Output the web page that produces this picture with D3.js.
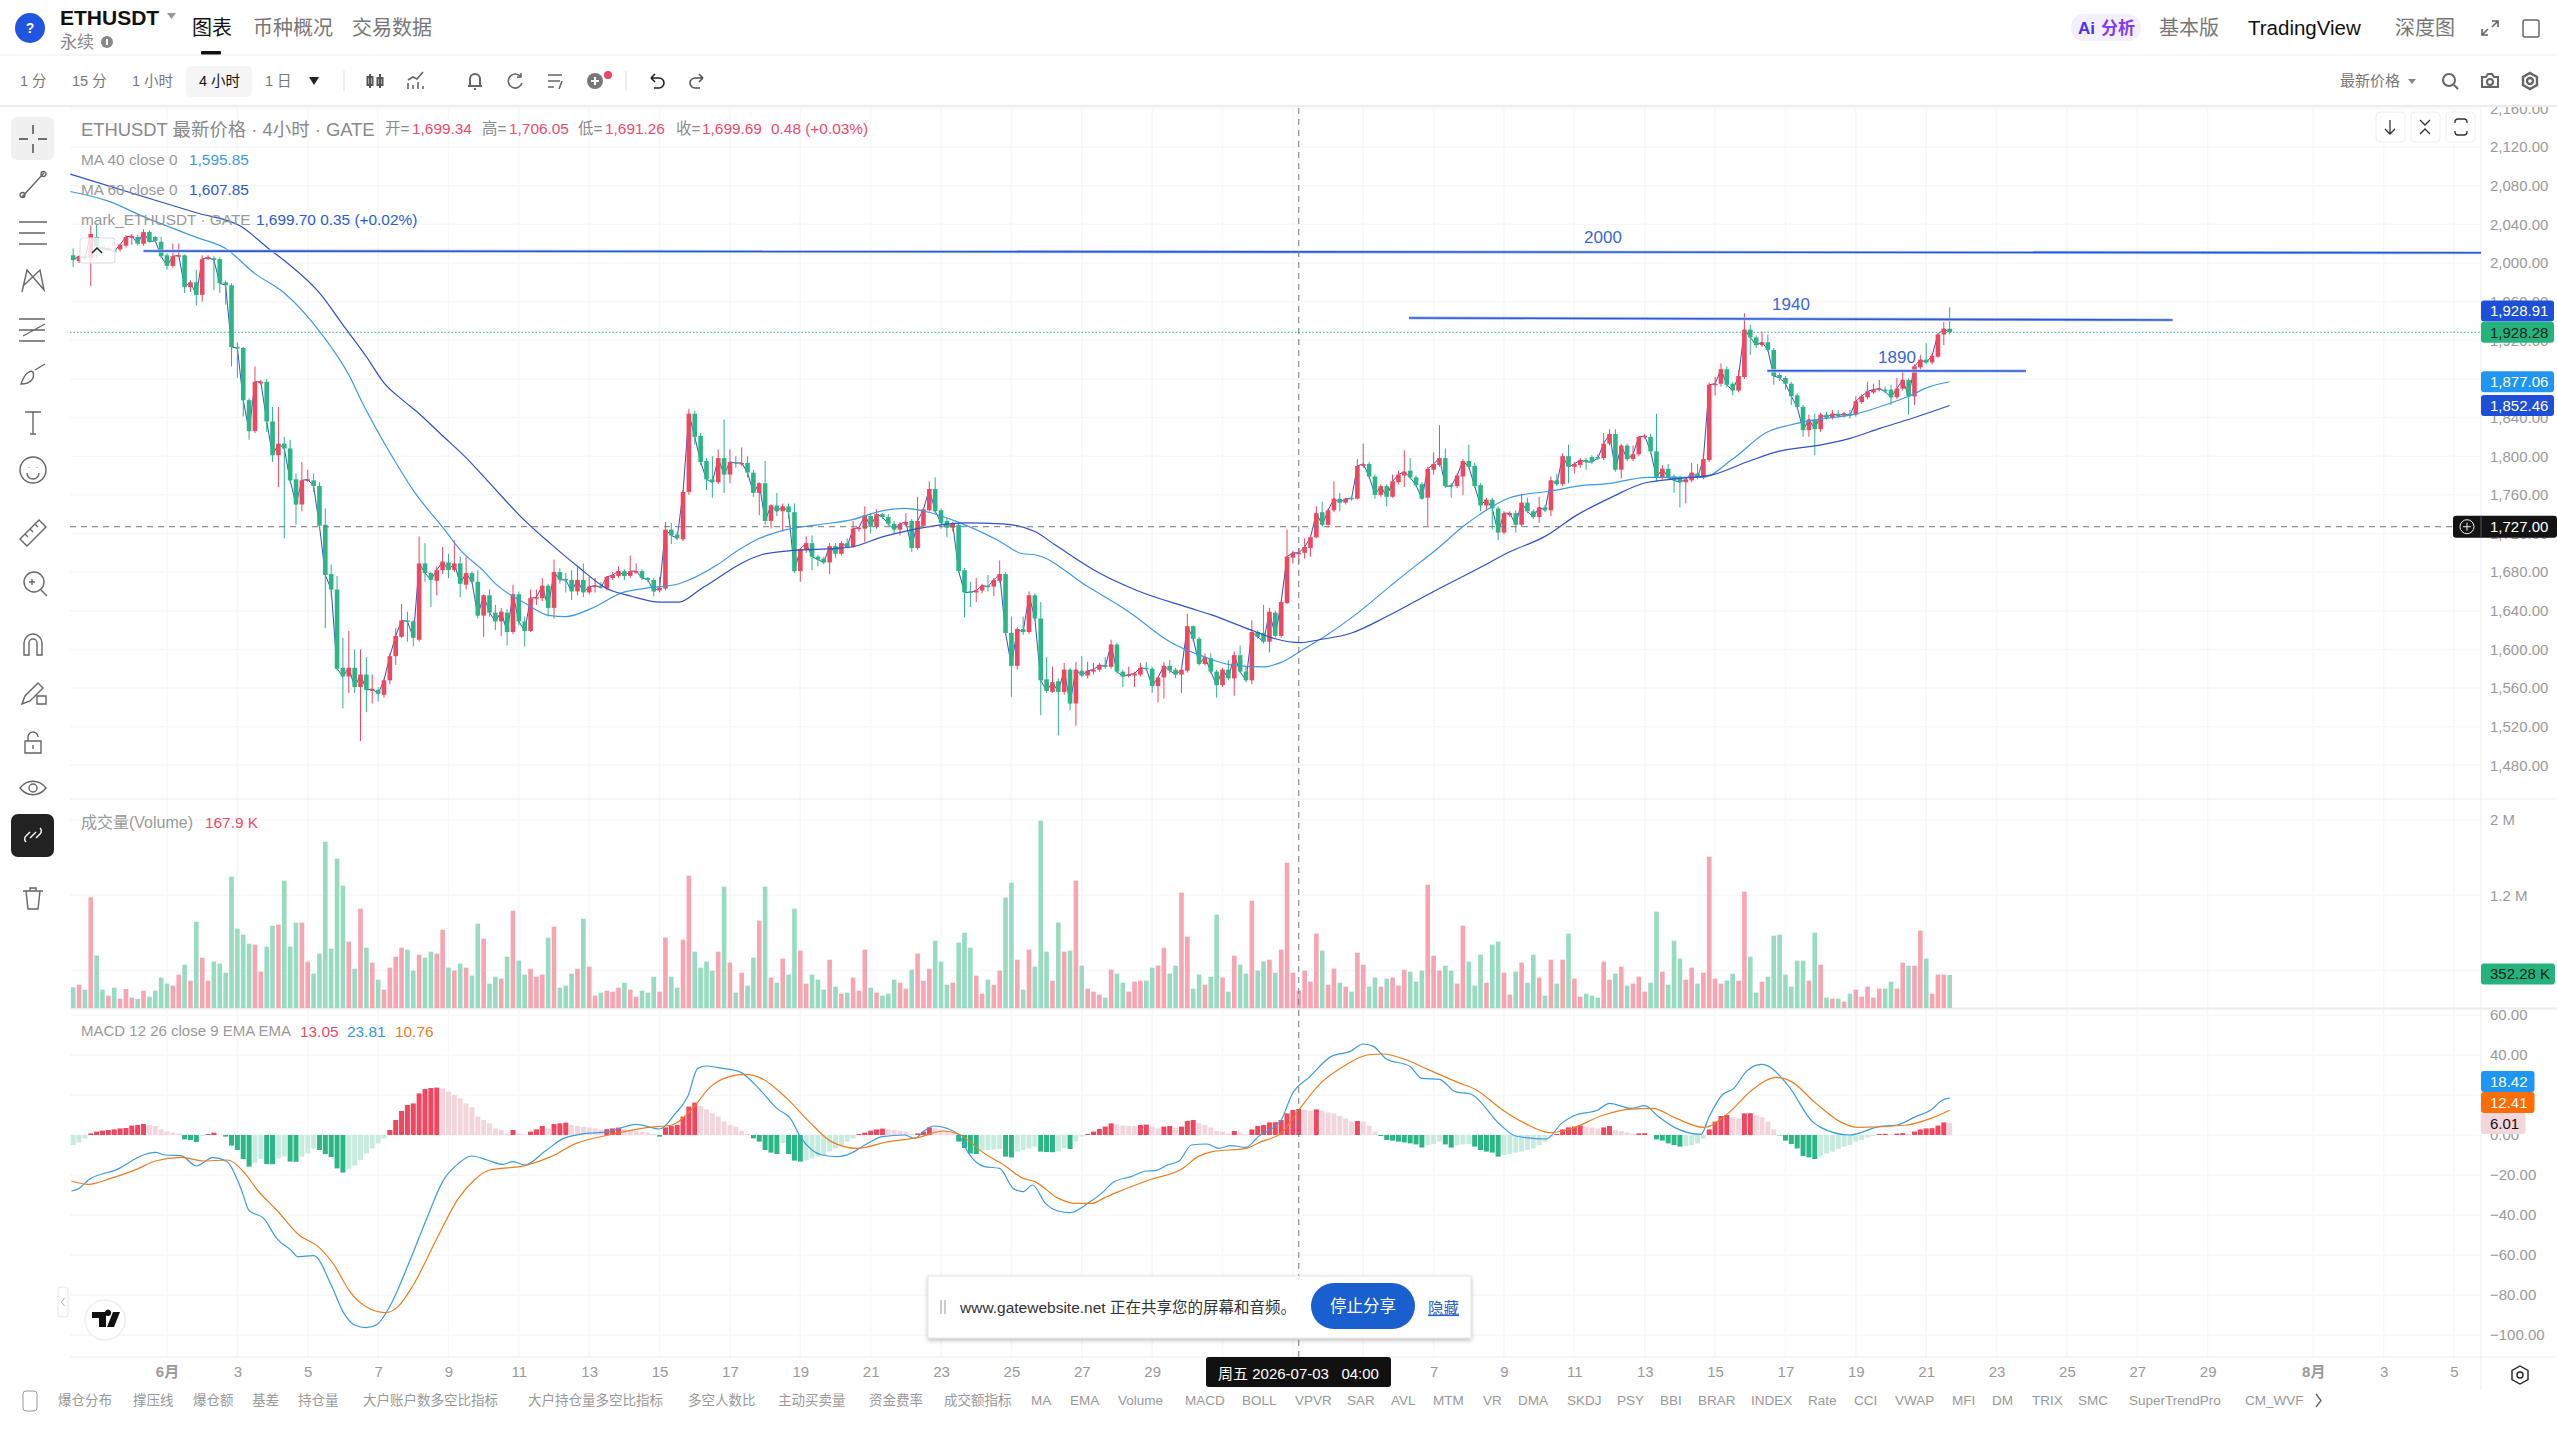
<!DOCTYPE html>
<html lang="zh">
<head>
<meta charset="utf-8">
<title>ETHUSDT</title>
<script src="https://cdn.jsdelivr.net/npm/d3@7/dist/d3.min.js"></script>
<style>
html,body{margin:0;padding:0;background:#fff;overflow:hidden}
svg{display:block}
text{font-family:'Liberation Sans','Noto Sans CJK SC',sans-serif}
</style>
</head>
<body>
<svg id="chart" width="2557" height="1437"></svg>
<script>
// Candles run from t = -16 to t = 304, one per 4 hours; t = 0 is 1 June 00:00.
const firstT = -16;

const opens = [
2008,2002,2007,2005,2027,2017,2013,2013,2014,2018,
2026,2027,2020,2032,2027,2022,2008,1997,2007,2008,
1975,1980,1967,2004,2005,2004,1980,1977,1913,1912,
1858,1826,1876,1877,1836,1801,1813,1808,1776,1750,
1775,1775,1769,1729,1678,1662,1581,1572,1581,1561,
1574,1557,1558,1553,1568,1593,1613,1630,1629,1610,
1689,1679,1671,1682,1690,1682,1689,1667,1679,1670,
1635,1656,1638,1629,1638,1618,1657,1629,1619,1653,
1653,1666,1643,1680,1673,1672,1660,1672,1659,1665,
1666,1663,1674,1676,1681,1676,1680,1681,1674,1672,
1661,1663,1724,1719,1714,1763,1844,1821,1795,1776,
1773,1798,1781,1794,1792,1793,1783,1762,1772,1733,
1749,1743,1748,1742,1681,1703,1710,1696,1694,1690,
1707,1699,1710,1706,1725,1725,1738,1727,1740,1737,
1730,1724,1729,1733,1705,1728,1744,1766,1744,1733,
1726,1729,1682,1660,1659,1661,1666,1665,1671,1678,
1617,1583,1621,1618,1656,1632,1569,1556,1567,1556,
1579,1544,1578,1573,1577,1579,1584,1582,1605,1577,
1573,1573,1574,1581,1580,1562,1571,1583,1579,1574,
1578,1624,1611,1585,1591,1577,1563,1579,1570,1594,
1577,1568,1618,1617,1608,1638,1614,1648,1695,1699,
1700,1705,1716,1742,1729,1744,1756,1752,1757,1756,
1790,1792,1779,1760,1769,1758,1773,1780,1785,1778,
1771,1757,1786,1791,1798,1770,1769,1779,1795,1790,
1770,1749,1755,1746,1721,1739,1741,1729,1752,1743,
1737,1747,1744,1775,1771,1800,1789,1791,1796,1799,
1799,1798,1813,1823,1786,1811,1797,1802,1820,1820,
1805,1778,1787,1779,1778,1773,1775,1782,1778,1796,
1874,1875,1890,1875,1868,1882,1931,1923,1915,1918,
1910,1884,1881,1875,1863,1851,1827,1838,1828,1843,
1840,1844,1842,1844,1843,1856,1861,1866,1869,1869,
1869,1861,1870,1879,1862,1892,1900,1897,1903,1926,1932];

const highs = [
2015,2008,2008,2039,2041,2019,2016,2014,2020,2029,
2030,2029,2035,2034,2028,2027,2010,2020,2020,2009,
1982,1993,2008,2008,2007,2006,1982,1979,1918,1913,
1860,1893,1879,1880,1851,1851,1820,1817,1782,1794,
1786,1782,1773,1746,1688,1676,1612,1619,1600,1600,
1592,1574,1561,1570,1596,1622,1647,1639,1630,1717,
1710,1680,1686,1706,1699,1713,1696,1696,1681,1682,
1657,1662,1646,1643,1642,1667,1660,1634,1662,1662,
1674,1668,1693,1684,1679,1682,1685,1689,1675,1674,
1670,1676,1680,1686,1683,1697,1689,1683,1675,1674,
1675,1732,1731,1722,1765,1849,1847,1824,1798,1800,
1807,1838,1807,1800,1809,1800,1786,1773,1795,1750,
1762,1751,1751,1751,1705,1717,1718,1698,1696,1710,
1710,1712,1715,1733,1727,1748,1741,1745,1741,1740,
1733,1732,1741,1735,1758,1746,1774,1778,1746,1736,
1732,1731,1684,1670,1674,1668,1677,1674,1692,1680,
1634,1623,1634,1660,1658,1649,1592,1582,1570,1586,
1581,1587,1593,1587,1586,1586,1592,1610,1607,1579,
1582,1577,1586,1587,1582,1572,1587,1589,1581,1581,
1637,1625,1613,1596,1596,1579,1581,1589,1598,1604,
1582,1630,1620,1646,1643,1640,1651,1724,1702,1705,
1715,1718,1748,1753,1746,1774,1762,1757,1758,1797,
1813,1794,1781,1771,1771,1781,1785,1806,1798,1780,
1773,1789,1804,1832,1808,1772,1782,1797,1812,1793,
1772,1757,1757,1748,1743,1743,1744,1761,1757,1745,
1758,1749,1779,1782,1803,1812,1794,1798,1798,1801,
1802,1824,1828,1828,1813,1813,1811,1821,1823,1823,
1844,1791,1792,1781,1780,1777,1793,1792,1803,1876,
1882,1896,1893,1877,1889,1948,1936,1925,1929,1926,
1912,1886,1883,1877,1865,1853,1843,1844,1845,1846,
1848,1848,1846,1848,1862,1864,1877,1875,1879,1872,
1874,1881,1889,1881,1895,1905,1917,1906,1928,1939,1954];

const lows = [
1996,2000,2003,1976,2005,2013,2012,2011,2012,2016,
2019,2018,2018,2021,2021,2005,1993,1995,2006,1969,
1970,1956,1960,2003,1972,1969,1957,1893,1881,1841,
1817,1824,1874,1825,1794,1768,1715,1772,1729,1743,
1773,1763,1724,1622,1655,1578,1539,1555,1555,1505,
1535,1544,1546,1550,1564,1584,1612,1608,1603,1608,
1670,1644,1656,1678,1674,1680,1654,1662,1668,1632,
1613,1634,1620,1614,1604,1616,1625,1603,1618,1646,
1650,1634,1632,1668,1659,1651,1656,1654,1657,1659,
1663,1661,1672,1674,1672,1674,1678,1672,1670,1655,
1659,1661,1709,1713,1712,1760,1812,1791,1765,1757,
1771,1762,1772,1788,1790,1778,1758,1739,1729,1725,
1738,1722,1735,1679,1670,1700,1682,1686,1688,1678,
1695,1697,1706,1705,1722,1711,1720,1725,1735,1728,
1720,1718,1727,1701,1703,1727,1743,1741,1725,1716,
1722,1679,1633,1644,1649,1658,1660,1655,1669,1615,
1551,1579,1615,1616,1630,1532,1555,1555,1511,1553,
1537,1521,1571,1570,1574,1577,1580,1580,1575,1561,
1571,1561,1572,1578,1555,1545,1549,1575,1570,1555,
1576,1608,1583,1583,1575,1550,1561,1568,1552,1575,
1566,1564,1611,1606,1597,1612,1612,1647,1689,1689,
1694,1696,1715,1727,1726,1742,1743,1750,1754,1755,
1788,1777,1756,1758,1748,1757,1771,1768,1776,1768,
1755,1728,1781,1789,1767,1757,1767,1760,1787,1767,
1743,1744,1724,1713,1719,1737,1721,1727,1741,1735,
1731,1742,1738,1769,1769,1772,1782,1788,1786,1792,
1796,1796,1811,1784,1777,1795,1795,1800,1818,1803,
1774,1776,1776,1762,1747,1751,1773,1776,1776,1794,
1863,1872,1871,1863,1866,1880,1905,1912,1913,1908,
1874,1878,1869,1853,1849,1820,1820,1801,1825,1838,
1838,1840,1840,1839,1841,1854,1859,1864,1867,1865,
1853,1859,1868,1843,1853,1890,1895,1895,1902,1915,1926];

const closes = [
2003,2007,2005,2030,2017,2014,2015,2012,2019,2027,
2028,2020,2032,2022,2023,2007,1997,2007,2008,1975,
1980,1967,2004,2006,2003,1979,1977,1913,1912,1858,
1826,1877,1877,1836,1801,1813,1808,1775,1750,1775,
1776,1769,1728,1677,1662,1580,1572,1581,1561,1574,
1558,1559,1554,1568,1593,1614,1630,1629,1612,1689,
1679,1672,1682,1691,1682,1689,1668,1679,1670,1635,
1656,1638,1629,1639,1618,1657,1629,1619,1653,1654,
1666,1643,1680,1672,1672,1660,1672,1659,1665,1666,
1664,1675,1677,1681,1676,1681,1681,1674,1672,1660,
1664,1724,1718,1715,1763,1844,1820,1794,1776,1773,
1798,1781,1794,1793,1793,1783,1762,1772,1733,1749,
1743,1748,1742,1681,1704,1710,1696,1693,1690,1707,
1699,1710,1706,1725,1726,1739,1727,1740,1737,1730,
1724,1730,1732,1705,1733,1745,1766,1743,1731,1726,
1730,1681,1659,1659,1661,1666,1665,1672,1678,1617,
1583,1621,1618,1656,1632,1568,1557,1566,1556,1579,
1544,1579,1573,1578,1579,1584,1582,1605,1577,1572,
1574,1575,1581,1580,1562,1571,1583,1578,1574,1579,
1624,1611,1585,1592,1577,1563,1579,1570,1594,1577,
1568,1618,1613,1608,1639,1614,1649,1696,1700,1700,
1706,1716,1741,1729,1744,1756,1752,1756,1756,1790,
1792,1779,1760,1769,1758,1774,1781,1784,1778,1770,
1756,1787,1792,1798,1769,1769,1780,1795,1789,1769,
1749,1755,1746,1721,1741,1741,1729,1752,1743,1737,
1747,1744,1775,1771,1800,1789,1792,1796,1794,1794,
1798,1813,1823,1786,1811,1797,1802,1820,1821,1805,
1778,1787,1778,1775,1773,1776,1783,1778,1797,1874,
1875,1890,1874,1868,1883,1931,1923,1915,1918,1910,
1883,1881,1875,1862,1851,1827,1838,1828,1843,1840,
1844,1842,1844,1842,1857,1862,1867,1869,1870,1867,
1861,1870,1879,1862,1893,1900,1897,1904,1926,1932,1928.28];

// Traded volume per candle, in thousands.
const volumes = [
220,248,195,1177,557,195,131,216,99,202,
110,96,184,121,184,323,259,238,355,461,
291,918,535,291,493,472,376,1397,844,780,
684,674,387,652,876,887,1355,652,908,908,
493,365,578,1769,631,1589,1301,706,418,1057,
642,482,301,195,429,546,642,621,397,567,
535,599,578,833,429,397,472,429,344,897,
738,259,333,312,546,1035,504,355,418,333,
355,748,865,216,238,365,418,950,440,131,
163,184,174,216,269,195,121,184,163,333,
174,748,333,216,727,1408,599,429,493,397,
599,1291,482,163,376,238,535,929,1291,323,
269,525,355,1057,610,259,355,301,195,514,
227,152,163,323,184,621,216,163,131,152,
301,269,206,408,578,291,418,716,493,248,
269,695,801,642,344,152,301,248,397,1174,
1333,514,195,621,440,1993,599,291,908,599,
610,1355,450,206,174,142,110,408,365,269,
174,280,291,291,429,450,642,365,450,1227,
759,206,355,248,333,993,323,174,557,461,
365,1142,397,493,514,376,621,1546,376,184,
397,280,791,610,248,418,269,227,174,589,
461,227,323,227,312,323,238,408,387,280,
397,1312,557,397,450,397,259,876,493,238,
567,269,674,706,376,142,387,482,269,567,
323,131,514,259,514,791,312,121,152,131,
110,493,301,365,440,238,259,333,174,269,
1025,387,248,716,525,301,429,259,376,1610,
312,259,291,365,291,1238,546,163,280,333,
769,780,355,227,504,504,291,801,461,110,
99,99,67,152,195,121,227,110,206,206,
280,206,482,450,450,823,525,152,355,355,352.28];

// MACD histogram per candle.
const histogram = [
-5,-3.7,-1.7,.8,1.7,2.2,2.5,2.8,3.3,3.5,
4.7,5,5.5,5,4.5,2.8,1.7,1.2,.7,-2.2,
-2.5,-3.5,-.5,.5,1.2,.2,-.8,-5.3,-7.5,-12,
-15.8,-14,-12,-14.5,-14.6,-11.7,-10.8,-13.3,-13.4,-10.8,
-9.2,-6.7,-7.5,-9.5,-11,-16.7,-18.8,-17,-15.3,-12.5,
-9.2,-6.7,-4.2,-1.7,2.5,7.5,12,15,15.8,20.8,
23,23.5,23.7,23.3,21.7,20,18.3,15.8,13.8,9.2,
7.5,5.8,3.3,2.5,.8,2.5,.8,.3,1.7,2.8,
4.5,3.3,5.5,5.8,6.2,5,4.5,4.2,3.8,3.3,
2.8,2.9,3.3,3.7,2.8,2.5,2.2,1.7,1.2,.5,
-.8,3.8,4.5,5,9.2,14.2,16.2,14.5,12.8,10.8,
9.2,6.7,5,4.2,2.2,.5,-1.7,-3.3,-7.5,-8.8,
-9.5,-4,-9.5,-12.8,-13.3,-12.5,-11.7,-10.8,-10,-8.3,
-6.7,-5,-3.3,-1.7,.5,1.2,2.2,2.8,3.2,2.8,
2.5,2.2,1.7,.5,.8,1.7,3.8,3.3,2.8,2.2,
1.2,-3.3,-6.5,-9.2,-9.5,-7.8,-7.5,-7.2,-7,-10.8,
-11.2,-8.3,-7.5,-6.7,-5.8,-8.3,-8.5,-8.6,-8.2,-6.5,
-7,-3.3,-.8,.5,1.7,3,4.2,5.8,5.3,4.7,
4.5,4.4,5,5.2,4.2,3.3,4.2,4.5,3.7,4.2,
7,7.5,5.8,5,3.8,2,1.7,.8,2,1.2,
.3,2.8,4.5,5,6.3,6.4,7.5,10.8,12.5,13,
12.5,12.2,12.8,12.2,11.3,10.8,9.5,8.3,6.7,7,
6.7,4.7,1.7,-.5,-2.5,-2.8,-3.3,-3.7,-4.2,-4.7,
-6.3,-5,-4.5,-3.3,-4.7,-6.3,-5,-4.7,-4.5,-5.8,
-7.5,-8.3,-8.8,-10.8,-10,-9.5,-8.8,-8.3,-7.5,-6.7,
-5,-3.3,-.8,.5,2.8,3.8,4.2,4.7,4.2,3.8,
3.3,3.8,4.5,2.5,2,1.2,.5,.8,.9,.1,
-2.2,-2.8,-4.2,-5,-5.8,-5.5,-5,-4.2,-1.7,2.8,
6.7,9.5,10,8.8,8.3,10.8,10.9,9.8,8.8,6.7,
2.8,-.2,-2.8,-4.5,-6.7,-10.5,-11.2,-12,-10.5,-9.2,
-8.3,-7,-5.8,-5,-3.3,-2.5,-1.2,-.5,.5,.6,
.3,.7,.9,.5,1.7,2.8,3.3,3.4,4.7,6.3,6.01];

// Moving averages, as [candle time, price] readings.
const ma40Points = [[-16.5,2074],[-10,2064],[-4,2048],[4.8,2027],[10,2015],[15,1989],[20,1969],[26.3,1927],[31.2,1882],[33.1,1858],[37.4,1810],[42.3,1762],[47.2,1725],[50,1703],[54,1681],[56.2,1667],[61,1648],[65.3,1635],[68,1634],[72.2,1642],[77.8,1659],[81.3,1663],[87.3,1668],[93.7,1687],[97,1701],[100.7,1714],[105.6,1724],[111,1729],[116.7,1734],[122.3,1744],[125.8,1746],[129.2,1743],[134.8,1732],[141.7,1713],[145.9,1699],[148,1698],[157,1665],[164,1639],[171,1608],[176.6,1593],[181.4,1584],[187,1582],[189.8,1586],[194,1601],[197.8,1615],[202.7,1636],[208.5,1665],[213,1687],[216,1701],[221.4,1729],[223.7,1739],[229,1757],[236,1764],[241.9,1770],[245,1771],[252.6,1778],[261.8,1778],[267,1797],[272.6,1824],[278,1834],[282.8,1839],[287.5,1843],[293,1853],[297,1862],[300.6,1872],[304,1877.06]];
const ma60Points = [[-16.5,2092],[-2,2065],[5,2052],[12.6,2038],[17.5,2014],[20.5,2000],[26,1969],[30,1936],[34,1903],[37,1876],[40.2,1858],[43,1844],[46.5,1824],[51.4,1796],[55.5,1769],[60.4,1737],[65.3,1710],[70,1686],[75,1663],[79.2,1655],[84,1649],[87.3,1649],[90.9,1662],[93,1670],[97.9,1689],[101.4,1698],[106,1702],[112.5,1704],[116.7,1706],[122.3,1717],[126.4,1723],[132,1729],[136,1731],[142.5,1730],[148,1722],[151.5,1708],[159,1679],[165.4,1661],[173.8,1644],[178,1636],[185.3,1619],[189,1611],[193.2,1607],[196.5,1610],[202,1617],[208,1634],[216,1660],[223.7,1684],[229,1701],[235,1717],[240.4,1739],[246.5,1758],[251.8,1772],[258,1777],[263.7,1781],[269.4,1794],[274.8,1805],[282.3,1812],[287,1818.5],[292.2,1829],[297.5,1839],[304,1852.46]];

// MACD signal lines, as [candle time, value] readings.
const difPoints = [[-16.3,-28],[-15,-26.7],[-13.4,-22.5],[-8.5,-17.2],[-4,-10],[-2,-8.7],[-.3,-10],[2.4,-10.3],[5,-15.5],[7.8,-11.3],[10.2,-13.3],[12.7,-27.5],[14,-37.8],[16.5,-41.7],[18.7,-51.7],[21.4,-58.3],[22.2,-60.8],[25,-60.3],[28,-75],[30,-88.3],[32,-95],[34,-96.3],[35.8,-94.7],[38.3,-84],[41,-65.8],[44.3,-41.7],[47,-23.3],[49.7,-14.2],[51.9,-10.5],[54.6,-12.5],[57.3,-14.7],[59,-13.3],[61,-15],[64.4,-8.3],[67.6,-1.7],[70.4,.3],[75.3,1.7],[80,5.3],[84,3],[86.7,10.8],[88.8,19.2],[90.5,33.3],[92,34.5],[94.8,33.3],[97.6,31.7],[101.4,21.7],[104,13.3],[106.3,8.3],[108,-.8],[111.7,-10],[114.4,-10.8],[116.6,-9.2],[119.3,-4.5],[122,-.8],[125.8,0],[127.5,-1.7],[129,1.7],[130.7,4.5],[133,3.3],[135,0],[136.7,-9.2],[139.4,-15.8],[142,-16.7],[144.3,-26.7],[146,-28.3],[147.6,-25],[149.8,-34.2],[152,-38],[154,-38.8],[157.2,-33.8],[159.7,-28.3],[161.3,-23.7],[164.4,-20.8],[167,-18],[168.5,-17.8],[170.6,-15],[172.6,-13],[174.7,-5],[177.3,-4.5],[179.4,-6.7],[181.4,-5.3],[184,-6.2],[186.1,-.8],[190,7.5],[191.8,20],[194.9,29.2],[198.5,39.2],[201.8,41.8],[204,45.5],[205.8,44.2],[207.8,38.3],[212,34.2],[214,28.3],[217,27.8],[219.7,21.7],[222.3,20.5],[227.4,5],[230,-.5],[235.2,-2],[237.8,5.8],[239.8,9.5],[244,12.5],[246,15.8],[249.7,13.3],[252,14.7],[254.3,9.2],[257.4,3.3],[261.6,.3],[263,9.2],[265.2,20],[267.2,23.3],[269.3,31.7],[271.9,35.3],[272.9,34.7],[276.6,24.2],[280.6,6.7],[282,3.8],[286.9,0],[292,4.2],[295,5],[298.2,9.2],[300.8,12.5],[302.8,17.5],[304,18.42]];
const deaPoints = [[-16.3,-23],[-13.4,-24.7],[-9.6,-21.7],[-5.2,-17.2],[-2,-13],[2.4,-11.2],[6.2,-13],[10.2,-12.5],[13.3,-19.2],[15.4,-27.5],[18.7,-37.5],[22.5,-50],[25.8,-55.8],[28.5,-65],[31.2,-78.3],[33.9,-85.8],[37.2,-88.8],[39.4,-85.8],[42,-75],[45.9,-52.5],[49.7,-31.7],[52.4,-22.5],[55,-17.5],[61,-15.3],[65.5,-10.8],[69.8,-4.2],[75.3,0],[81.8,3.7],[86.1,5],[89.4,12.5],[92.7,24.2],[95.9,29.2],[98.6,30.3],[101.4,28.3],[105.7,18.3],[109.5,6.7],[113.3,-3.3],[117.7,-6.7],[123,-3.3],[128,-1.3],[132.4,2],[135,.5],[139.4,-9.2],[142.7,-15],[146,-21.7],[148,-23.3],[152,-31.7],[155,-34.2],[157.7,-34.2],[160,-31.2],[162.3,-28.3],[167.5,-22.5],[173.2,-16.7],[175.8,-10.8],[178.3,-8.3],[184,-6.7],[186.6,-3.3],[190,.8],[193,12.5],[196.7,25.8],[200.6,34.2],[204.7,40],[207.3,40.5],[211.4,37.5],[215,32.8],[220.2,26.2],[223.3,22.5],[227.4,13.3],[231.6,5.8],[235.7,1.2],[238.8,2.5],[245,10],[249.1,12.8],[253.3,13.3],[257.4,8.3],[262,3.8],[266.2,10.8],[270.3,22.5],[274.5,28.8],[277,26.7],[281.2,15.8],[285.3,6.7],[288.4,3.8],[296.7,5],[300.8,8.3],[304,12.41]];

// Hand-drawn levels on the price pane: label, then both ends as candle time and price.
const levelLabels = ["2000", "1940", "1890"];
const levelEnds = [
  [[-4, 2012.4], [395, 2010.6]],
  [[211.8, 1943.1], [342, 1941]],
  [[272.9, 1888.4], [317, 1888.2]]
];

const priceTicks = d3.range(1480, 2161, 40);
const volumeTicks = [1200, 2000];
const volumeGrid = [400, 1200, 2000];
const macdTicks = d3.range(-100, 61, 20);
const dayTicks = [[0,"6月"],[12,"3"],[24,"5"],[36,"7"],[48,"9"],[60,"11"],[72,"13"],[84,"15"],[96,"17"],[108,"19"],[120,"21"],[132,"23"],[144,"25"],[156,"27"],[168,"29"],[180,""],[192,""],[204,""],[216,"7"],[228,"9"],[240,"11"],[252,"13"],[264,"15"],[276,"17"],[288,"19"],[300,"21"],[312,"23"],[324,"25"],[336,"27"],[348,"29"],[366,"8月"],[378,"3"],[390,"5"]];
const crossT = 193, crossPrice = 1727;

const bottomRow = [[58,"爆仓分布"],[133,"撑压线"],[193,"爆仓额"],[252,"基差"],[298,"持仓量"],[363,"大户账户数多空比指标"],[528,"大户持仓量多空比指标"],[688,"多空人数比"],[778,"主动买卖量"],[869,"资金费率"],[944,"成交额指标"],[1031,"MA"],[1070,"EMA"],[1118,"Volume"],[1185,"MACD"],[1242,"BOLL"],[1295,"VPVR"],[1347,"SAR"],[1391,"AVL"],[1433,"MTM"],[1483,"VR"],[1518,"DMA"],[1567,"SKDJ"],[1617,"PSY"],[1660,"BBI"],[1698,"BRAR"],[1751,"INDEX"],[1808,"Rate"],[1854,"CCI"],[1895,"VWAP"],[1952,"MFI"],[1992,"DM"],[2032,"TRIX"],[2078,"SMC"],[2129,"SuperTrendPro"],[2245,"CM_WVF"]];

[opens, highs, lows, closes, volumes, histogram].forEach(a => {
  if (a.length !== 321) throw new Error("series length " + a.length);
});

const UP = "#f0465f", DOWN = "#2bb686";
const UP_SOFT = "#f8a5b3", DOWN_SOFT = "#97dcc0";
const HIST_UP_SOFT = "#f2d6dc", HIST_DOWN_SOFT = "#c8ebdf";
const MA40 = "#3d9ae2", MA60 = "#2f50c8", MARK = "#2f50c8";
const DIF = "#3b9ddd", DEA = "#ee7d1e";
const GREY = "#9a9a9a", GRID = "#f6f7f8", RULE = "#ececec";

const paneLeft = 70, paneRight = 2481;
const svg = d3.select("#chart");
const times = closes.map((_, i) => i + firstT);

const x = d3.scaleLinear().domain([0, 304]).range([167, 167 + 5.864 * 304]);
const yPrice = d3.scaleLinear().domain([2000, 1800]).range([263, 456.2]);
const yVolume = d3.scaleLinear().domain([0, 2000]).range([1008, 820]);
const yMacd = d3.scaleLinear().domain([0, -100]).range([1135, 1335]);

const defs = svg.append("defs");
defs.append("clipPath").attr("id", "pricePane").append("rect")
  .attr("x", paneLeft).attr("y", 108).attr("width", paneRight - paneLeft).attr("height", 691);
defs.append("clipPath").attr("id", "priceAxis").append("rect")
  .attr("x", paneRight).attr("y", 107).attr("width", 80).attr("height", 692);
const sh = defs.append("filter").attr("id", "dialogShadow").attr("x", "-5%").attr("y", "-20%").attr("width", "110%").attr("height", "150%");
sh.append("feDropShadow").attr("dx", 0).attr("dy", 2).attr("stdDeviation", 2).attr("flood-color", "#000").attr("flood-opacity", 0.25);

function label(sel, px, py, str, o = {}) {
  return sel.append("text").attr("x", px).attr("y", py).attr("dy", "0.36em")
    .attr("font-size", o.size || 15.4).attr("fill", o.fill || GREY)
    .attr("font-weight", o.weight || null).attr("text-anchor", o.anchor || "start")
    .text(str);
}

/* ---------- grid and pane rules ---------- */
const grid = svg.append("g").attr("stroke", GRID).attr("stroke-width", 1.5);
grid.selectAll(".v").data(dayTicks).join("line")
  .attr("x1", d => x(d[0])).attr("x2", d => x(d[0])).attr("y1", 108).attr("y2", 1357);
const hGrid = (vals, scale) => grid.append("g").selectAll("line").data(vals).join("line")
  .attr("x1", paneLeft).attr("x2", paneRight).attr("y1", scale).attr("y2", scale);
hGrid(priceTicks, yPrice);
hGrid(volumeGrid, yVolume);
hGrid(macdTicks, yMacd);

const rules = svg.append("g").attr("stroke", RULE);
[[0, 55, 2557, 55], [0, 106, 2557, 106], [paneLeft, 799, 2557, 799], [paneLeft, 1008.5, 2557, 1008.5], [paneLeft, 1357, 2557, 1357], [paneRight, 108, paneRight, 1390]]
  .forEach(r => rules.append("line").attr("x1", r[0]).attr("y1", r[1]).attr("x2", r[2]).attr("y2", r[3]).attr("stroke-width", r[1] === 1008.5 || r[1] === 106 ? 2 : 1));

/* ---------- price pane ---------- */
const price = svg.append("g").attr("clip-path", "url(#pricePane)");
const priceLine = d3.line().x(d => x(d[0])).y(d => yPrice(d[1])).curve(d3.curveMonotoneX);

price.append("path").datum(times.map((t, i) => [t, closes[i]]))
  .attr("fill", "none").attr("stroke", MARK).attr("stroke-width", 1)
  .attr("d", d3.line().x(d => x(d[0])).y(d => yPrice(d[1])));

const candle = price.append("g").selectAll("g").data(times).join("g")
  .attr("fill", (t, i) => closes[i] >= opens[i] ? UP : DOWN)
  .attr("stroke", (t, i) => closes[i] >= opens[i] ? UP : DOWN);
candle.append("line").attr("x1", t => x(t)).attr("x2", t => x(t))
  .attr("y1", (t, i) => yPrice(highs[i])).attr("y2", (t, i) => yPrice(lows[i])).attr("stroke-width", 1);
candle.append("rect").attr("stroke", "none")
  .attr("x", t => x(t) - 2.3).attr("width", 4.6)
  .attr("y", (t, i) => yPrice(Math.max(opens[i], closes[i])))
  .attr("height", (t, i) => Math.max(1.5, Math.abs(yPrice(opens[i]) - yPrice(closes[i]))));

price.append("path").datum(ma40Points).attr("fill", "none").attr("stroke", MA40).attr("stroke-width", 1.2).attr("d", priceLine);
price.append("path").datum(ma60Points).attr("fill", "none").attr("stroke", MA60).attr("stroke-width", 1.2).attr("d", priceLine);

// last-price guide
svg.append("line").attr("x1", paneLeft).attr("x2", paneRight)
  .attr("y1", yPrice(closes[closes.length - 1])).attr("y2", yPrice(closes[closes.length - 1]))
  .attr("stroke", DOWN).attr("stroke-width", 1).attr("stroke-dasharray", "1.5 2");

// drawn levels
const levelLine = d3.line().x(d => x(d[0])).y(d => yPrice(d[1]));
levelEnds.forEach(pts => {
  const g = svg.append("g").attr("clip-path", "url(#pricePane)");
  g.append("path").attr("d", levelLine(pts)).attr("fill", "none").attr("stroke", "#b9cbf5").attr("stroke-width", 3.2);
  g.append("path").attr("d", levelLine(pts)).attr("fill", "none").attr("stroke", "#2b58d6").attr("stroke-width", 1.6);
});
const levelText = svg.append("g");
label(levelText, 1603, 236.5, levelLabels[0], {fill: "#3767d8", size: 17, anchor: "middle"});
label(levelText, 1791, 304, levelLabels[1], {fill: "#3767d8", size: 17, anchor: "middle"});
label(levelText, 1897, 357, levelLabels[2], {fill: "#3767d8", size: 17, anchor: "middle"});

/* ---------- volume pane ---------- */
svg.append("g").selectAll("rect").data(times).join("rect")
  .attr("x", t => x(t) - 2.3).attr("width", 4.6)
  .attr("y", (t, i) => yVolume(volumes[i]))
  .attr("height", (t, i) => yVolume(0) - yVolume(volumes[i]))
  .attr("fill", (t, i) => closes[i] >= opens[i] ? UP_SOFT : DOWN_SOFT);

/* ---------- MACD pane ---------- */
const histColour = (v, i) => {
  const prev = i ? histogram[i - 1] : v;
  if (v >= 0) return v > prev ? UP : HIST_UP_SOFT;
  return v < prev ? DOWN : HIST_DOWN_SOFT;
};
svg.append("g").selectAll("rect").data(times).join("rect")
  .attr("x", t => x(t) - 2.5).attr("width", 5)
  .attr("y", (t, i) => Math.min(yMacd(0), yMacd(histogram[i])))
  .attr("height", (t, i) => Math.abs(yMacd(histogram[i]) - yMacd(0)))
  .attr("fill", (t, i) => histColour(histogram[i], i));
const macdLine = d3.line().x(d => x(d[0])).y(d => yMacd(d[1])).curve(d3.curveMonotoneX);
svg.append("path").datum(difPoints).attr("fill", "none").attr("stroke", DIF).attr("stroke-width", 1.2).attr("d", macdLine);
svg.append("path").datum(deaPoints).attr("fill", "none").attr("stroke", DEA).attr("stroke-width", 1.2).attr("d", macdLine);

/* ---------- crosshair ---------- */
const cross = svg.append("g").attr("stroke", "#777").attr("stroke-width", 1).attr("stroke-dasharray", "6 5");
cross.append("line").attr("x1", x(crossT)).attr("x2", x(crossT)).attr("y1", 108).attr("y2", 1357);
cross.append("line").attr("x1", paneLeft).attr("x2", 2453).attr("y1", yPrice(crossPrice)).attr("y2", yPrice(crossPrice));

/* ---------- axes ---------- */
function styleAxis(g) {
  g.select(".domain").remove();
  g.selectAll("text").attr("font-size", 15).attr("fill", GREY)
    .attr("font-family", "'Liberation Sans','Noto Sans CJK SC',sans-serif");
}
svg.append("g").attr("clip-path", "url(#priceAxis)").append("g")
  .attr("transform", `translate(${paneRight},0)`)
  .call(d3.axisRight(yPrice).tickValues(priceTicks).tickSize(0).tickPadding(9).tickFormat(d3.format(",.2f")))
  .call(styleAxis);
svg.append("g").attr("transform", `translate(${paneRight},0)`)
  .call(d3.axisRight(yVolume).tickValues(volumeTicks).tickSize(0).tickPadding(9).tickFormat(d => (d / 1000) + " M"))
  .call(styleAxis);
svg.append("g").attr("transform", `translate(${paneRight},0)`)
  .call(d3.axisRight(yMacd).tickValues(macdTicks).tickSize(0).tickPadding(9).tickFormat(d3.format(".2f")))
  .call(styleAxis);
const dayLabel = new Map(dayTicks);
const xAxis = svg.append("g").attr("transform", "translate(0,1357)")
  .call(d3.axisBottom(x).tickValues(dayTicks.map(d => d[0])).tickSize(0).tickPadding(9).tickFormat(t => dayLabel.get(t)))
  .call(styleAxis);
xAxis.selectAll("text").attr("font-weight", t => dayLabel.get(t).includes("月") ? "bold" : null);

/* ---------- value tags on the axes ---------- */
function tag(py, w, fill, str, textFill) {
  svg.append("rect").attr("x", paneRight).attr("y", py - 10.5).attr("width", w).attr("height", 21).attr("rx", 3).attr("fill", fill);
  label(svg, 2490, py, str, {fill: textFill, size: 15});
}
tag(311, 73, "#1d4fd8", "1,928.91", "#fff");
tag(yPrice(closes[closes.length - 1]), 73, "#26b27c", d3.format(",.2f")(closes[closes.length - 1]), "#10241c");
tag(yPrice(1877.06), 73, "#2096f3", "1,877.06", "#fff");
tag(yPrice(1852.46), 73, "#1d4fd8", "1,852.46", "#fff");
tag(974, 74, "#26b27c", "352.28 K", "#10241c");
tag(1081.6, 53.5, "#2096f3", "18.42", "#fff");
tag(1102.6, 53.5, "#ff6d00", "12.41", "#fff");
tag(1123.4, 44.5, HIST_UP_SOFT, "6.01", "#111");

// crosshair price tag with its add button
const cy = yPrice(crossPrice);
svg.append("rect").attr("x", 2453).attr("y", cy - 11).attr("width", 104).attr("height", 22).attr("rx", 3).attr("fill", "#131313");
svg.append("line").attr("x1", 2481).attr("x2", 2481).attr("y1", cy - 11).attr("y2", cy + 11).attr("stroke", "#555");
svg.append("circle").attr("cx", 2467).attr("cy", cy).attr("r", 7).attr("fill", "none").attr("stroke", "#eee");
svg.append("path").attr("d", `M2463 ${cy}h8M2467 ${cy - 4}v8`).attr("stroke", "#eee");
label(svg, 2490, cy, d3.format(",.2f")(crossPrice), {fill: "#fff", size: 15});

// crosshair time tag
svg.append("rect").attr("x", 1206).attr("y", 1357).attr("width", 185).attr("height", 30).attr("rx", 3).attr("fill", "#111");
label(svg, 1298.5, 1373.5, "周五 2026-07-03\u00a0\u00a0\u00a004:00", {fill: "#fff", anchor: "middle", size: 15});

/* ---------- pane legends ---------- */
const lg = svg.append("g");
label(lg, 81, 129, "ETHUSDT 最新价格 · 4小时 · GATE", {size: 18.4, fill: "#8a8a8a"});
[[385, "开="], [482, "高="], [578, "低="], [676, "收="]].forEach(d => label(lg, d[0], 128, d[1], {fill: "#8a8a8a"}));
[[412, "1,699.34"], [509, "1,706.05"], [605, "1,691.26"], [702, "1,699.69"], [771, "0.48 (+0.03%)"]].forEach(d => label(lg, d[0], 128, d[1], {fill: "#ee4b6a"}));
label(lg, 81, 159, "MA 40 close 0");
label(lg, 189, 159, "1,595.85", {fill: MA40});
label(lg, 81, 189, "MA 60 close 0");
label(lg, 189, 189, "1,607.85", {fill: "#2b5bd7"});
label(lg, 81, 219, "mark_ETHUSDT · GATE");
label(lg, 256, 219, "1,699.70  0.35 (+0.02%)", {fill: "#2b5bd7"});
label(lg, 81, 822, "成交量(Volume)", {size: 16});
label(lg, 205, 822, "167.9 K", {fill: "#ee4b6a"});
label(lg, 81, 1031, "MACD 12 26 close 9 EMA EMA", {size: 15});
label(lg, 300, 1031, "13.05", {fill: "#ee4b6a"});
label(lg, 347, 1031, "23.81", {fill: "#2f9be0"});
label(lg, 395, 1031, "10.76", {fill: "#ee7d1e"});

// collapse button over the legend
svg.append("rect").attr("x", 80).attr("y", 238).attr("width", 35).attr("height", 25).attr("rx", 3).attr("fill", "#fff").attr("fill-opacity", 0.8).attr("stroke", "#ddd");
svg.append("path").attr("d", "M92 253l5-5 5 5").attr("fill", "none").attr("stroke", "#222").attr("stroke-width", 1.5);

/* ---------- top header ---------- */
const head = svg.append("g");
head.append("circle").attr("cx", 30).attr("cy", 28).attr("r", 15).attr("fill", "#1f55e0");
label(head, 30, 28, "?", {fill: "#fff", size: 14, weight: "bold", anchor: "middle"});
label(head, 60, 17, "ETHUSDT", {fill: "#111", size: 21, weight: "bold"});
head.append("path").attr("d", "M167 13h9l-4.5 6z").attr("fill", "#999");
label(head, 60, 42, "永续", {fill: "#888", size: 17});
head.append("circle").attr("cx", 107).attr("cy", 42).attr("r", 6).attr("fill", "#888");
head.append("rect").attr("x", 106).attr("y", 39).attr("width", 2).attr("height", 6).attr("fill", "#fff");
label(head, 192, 28, "图表", {fill: "#111", size: 20});
head.append("rect").attr("x", 201).attr("y", 51).attr("width", 20).attr("height", 3.5).attr("rx", 1).attr("fill", "#111");
label(head, 253, 28, "币种概况", {fill: "#777", size: 20});
label(head, 352, 28, "交易数据", {fill: "#777", size: 20});

head.append("rect").attr("x", 2071).attr("y", 14).attr("width", 70).attr("height", 27).attr("rx", 13).attr("fill", "#f3effc");
label(head, 2078, 28, "Ai", {fill: "#4a32e6", size: 17, weight: "bold"});
label(head, 2101, 28, "分析", {fill: "#7f3cf0", size: 17, weight: "bold"});
label(head, 2159, 28, "基本版", {fill: "#777", size: 20});
label(head, 2248, 28, "TradingView", {fill: "#111", size: 20.5});
label(head, 2395, 28, "深度图", {fill: "#777", size: 20});
head.append("path").attr("d", "M2492 21h6v6M2498 21l-6 6M2488 35h-6v-6M2482 35l6-6").attr("fill", "none").attr("stroke", "#666").attr("stroke-width", 1.6);
head.append("rect").attr("x", 2523).attr("y", 20).attr("width", 16).attr("height", 17).attr("rx", 2).attr("fill", "none").attr("stroke", "#666").attr("stroke-width", 1.5);

/* ---------- interval toolbar ---------- */
const bar = svg.append("g");
bar.append("rect").attr("x", 186).attr("y", 66).attr("width", 66).attr("height", 31).attr("rx", 5).attr("fill", "#f5f5f5");
[[20, "1 分", "#777"], [72, "15 分", "#777"], [132, "1 小时", "#777"], [199, "4 小时", "#111"], [265, "1 日", "#777"]]
  .forEach(d => label(bar, d[0], 81, d[1], {fill: d[2], size: 14.5}));
bar.append("path").attr("d", "M309 77h10l-5 8z").attr("fill", "#222");
[344, 626].forEach(px => bar.append("line").attr("x1", px).attr("x2", px).attr("y1", 71).attr("y2", 91).attr("stroke", "#ddd"));
const iconPaths = {
  candles: "M-5-7v14M5-7v14M-7.5-4h5v8h-5zM2.5-3h5v7h-5z",
  indicator: "M-7 8v-6M-2 8v-4M3 8v-7M8 8v-3M-7-1l5-3 4 2 6-7",
  bell: "M-5 5V-2a5 5 0 0 1 10 0V5zM-7 5h14M-1 8h2",
  replay: "M6-4a7 7 0 1 0 1 6M6-8v4h-4",
  list: "M-7-6h14M-7 0h12M-7 6h6M4 8l3-8",
  undo: "M-6-3h8a5 5 0 0 1 0 10h-5M-6-3l4-4M-6-3l4 4",
  redo: "M6-3h-8a5 5 0 0 0 0 10h5M6-3l-4-4M6-3l-4 4",
  search: "M5 5l4 4M6 0a6 6 0 1 1-12 0a6 6 0 1 1 12 0",
  camera: "M-8-4h4l2-3h4l2 3h4v10h-16zM3 1a3 3 0 1 1-6 0a3 3 0 1 1 6 0",
  gear: "M0-8l7 4v8l-7 4l-7-4v-8zM3 0a3 3 0 1 1-6 0a3 3 0 1 1 6 0"
};
function icon(parent, name, px, py, col, w) {
  parent.append("path").attr("transform", `translate(${px},${py})`).attr("d", iconPaths[name])
    .attr("fill", "none").attr("stroke", col || "#666").attr("stroke-width", w || 1.6);
}
icon(bar, "candles", 375, 81, "#555", 2);
icon(bar, "indicator", 415, 81);
icon(bar, "bell", 475, 81, "#666", 2);
icon(bar, "replay", 515, 81);
icon(bar, "list", 555, 81);
bar.append("circle").attr("cx", 595).attr("cy", 81).attr("r", 8).attr("fill", "#777");
bar.append("path").attr("d", "M591 81h8M595 77v8").attr("stroke", "#fff").attr("stroke-width", 2);
bar.append("circle").attr("cx", 608).attr("cy", 75).attr("r", 4).attr("fill", "#f0465f");
icon(bar, "undo", 657, 81, "#222");
icon(bar, "redo", 697, 81, "#555");
label(bar, 2340, 81, "最新价格", {fill: "#777", size: 15});
bar.append("path").attr("d", "M2408 79h8l-4 5z").attr("fill", "#888");
icon(bar, "search", 2449, 80, "#666", 2);
icon(bar, "camera", 2490, 81, "#666", 2);
icon(bar, "gear", 2530, 81, "#666", 2.4);

// chart corner buttons
const corner = svg.append("g");
[2376, 2411, 2446].forEach(px => corner.append("rect").attr("x", px).attr("y", 112).attr("width", 29).attr("height", 30).attr("rx", 4).attr("fill", "#fff").attr("stroke", "#eee"));
corner.append("path").attr("d", "M2390 120v14M2385 129l5 5 5-5M2420 120l5 5 5-5M2420 134l5-5 5 5").attr("fill", "none").attr("stroke", "#333").attr("stroke-width", 1.3);
corner.append("path").attr("d", "M2455 123v-1a3 3 0 0 1 3-3h6a3 3 0 0 1 3 3v1M2455 131v1a3 3 0 0 0 3 3h6a3 3 0 0 0 3-3v-1M2453 127").attr("fill", "none").attr("stroke", "#333").attr("stroke-width", 1.3);

/* ---------- drawing tool rail ---------- */
const rail = svg.append("g");
rail.append("rect").attr("x", 11).attr("y", 117).attr("width", 43).attr("height", 43).attr("rx", 6).attr("fill", "#f0f0f0");
rail.append("rect").attr("x", 11).attr("y", 814).attr("width", 43).attr("height", 43).attr("rx", 7).attr("fill", "#222");
const railPaths = [
  [139, "M0-14v9M0 5v9M-14 0h9M5 0h9", "#444"],
  [185, "M-11 12L11-12M-13 10a2.5 2.5 0 1 0 5 0a2.5 2.5 0 1 0-5 0M8-11a2.5 2.5 0 1 0 5 0a2.5 2.5 0 1 0-5 0", "#666"],
  [233, "M-14-11h28M-14 0h26M-14 11h28", "#666"],
  [280, "M-11 12L-6-10L11 10L7-10L-10 6", "#666"],
  [330, "M-14-11h26M-14 0h26M-14 11h26M-10 6L12-6", "#666"],
  [376, "M-12 8C-8-4-2-6 0-4C2 2-2 8-12 8zM2-6l10-6", "#666"],
  [423, "M-8-11H8M0-11V11M-3 11H3", "#666"],
  [470, "M13 0a13 13 0 1 1-26 0a13 13 0 1 1 26 0M-6 3a6 6 0 0 0 12 0M-4-3v.5M4-3v.5", "#666"],
  [533, "M-13 6L6-13L13-6L-6 13zM-8 1l3 3M-3-4l3 3M2-9l3 3", "#666"],
  [582, "M8 8l6 6M11 0a10 10 0 1 1-20 0a10 10 0 1 1 20 0M-4 0h6M-1-3v6", "#666"],
  [644, "M-9 11V-1a9 9 0 0 1 18 0V11H4V-1a4 4 0 0 0-8 0V11z", "#666"],
  [693, "M-11 11l3-8L5-10l5 5L-3 8zM4 3h9v8H4z", "#666"],
  [742, "M-8-1h16v12h-16zM-5-1v-4a5 5 0 0 1 10 0M0 3v4", "#666"],
  [788, "M-13 0C-6-9 6-9 13 0C6 9-6 9-13 0zM4 0a4 4 0 1 1-8 0a4 4 0 1 1 8 0", "#666"],
  [835, "M-7 7a4 4 0 0 1 0-6l4-4M7-7a4 4 0 0 1 0 6l-4 4M-3 3L3-3", "#fff"],
  [899, "M-10-8h20M-7-8l2 18h10l2-18M-3-8v-3h6v3", "#666"]
];
railPaths.forEach(d => rail.append("path").attr("transform", `translate(33,${d[0]})`).attr("d", d[1])
  .attr("fill", "none").attr("stroke", d[2]).attr("stroke-width", 1.4));

/* ---------- indicator shortcuts ---------- */
const foot = svg.append("g");
foot.append("rect").attr("x", 23).attr("y", 1391).attr("width", 14).attr("height", 20).attr("rx", 3).attr("fill", "none").attr("stroke", "#999");
bottomRow.forEach(d => label(foot, d[0], 1400.5, d[1], {fill: "#999", size: 13.5}));
foot.append("path").attr("d", "M2316 1394l5 6.5-5 6.5").attr("fill", "none").attr("stroke", "#666").attr("stroke-width", 1.4);
foot.append("path").attr("d", "M2520 1366l8 4.5v9l-8 4.5l-8-4.5v-9zM2523 1375a3 3 0 1 1-6 0a3 3 0 1 1 6 0").attr("fill", "none").attr("stroke", "#222").attr("stroke-width", 1.4);

/* ---------- logo badge and side handle ---------- */
svg.append("circle").attr("cx", 105).attr("cy", 1320).attr("r", 20).attr("fill", "#fff").attr("stroke", "#eee").attr("stroke-width", 1.5);
svg.append("path").attr("d", "M92 1312h14v15h-7v-9h-7zM108 1316a3.2 3.2 0 1 1 0.01 0zM113 1312h7l-6 15h-7z").attr("fill", "#111");
svg.append("rect").attr("x", 58).attr("y", 1287).attr("width", 10).attr("height", 30).attr("rx", 3).attr("fill", "#fff").attr("stroke", "#e6e6e6");
svg.append("path").attr("d", "M64.5 1298l-3 4 3 4").attr("fill", "none").attr("stroke", "#aaa");

/* ---------- screen-sharing notice ---------- */
const notice = svg.append("g");
notice.append("rect").attr("x", 928).attr("y", 1276).attr("width", 543).attr("height", 62).attr("fill", "#fff").attr("stroke", "#e2e2e2").attr("filter", "url(#dialogShadow)");
notice.append("path").attr("d", "M941 1300v14M945 1300v14").attr("stroke", "#ccc").attr("stroke-width", 2);
label(notice, 960, 1307, "www.gatewebsite.net 正在共享您的屏幕和音频。", {fill: "#333", size: 15.5});
notice.append("rect").attr("x", 1311).attr("y", 1283).attr("width", 104).attr("height", 46).attr("rx", 23).attr("fill", "#1a5fd0");
label(notice, 1363, 1306, "停止分享", {fill: "#fff", size: 16.5, anchor: "middle"});
label(notice, 1428, 1308, "隐藏", {fill: "#2a62c9", size: 15.5}).attr("text-decoration", "underline");
</script>
</body>
</html>
